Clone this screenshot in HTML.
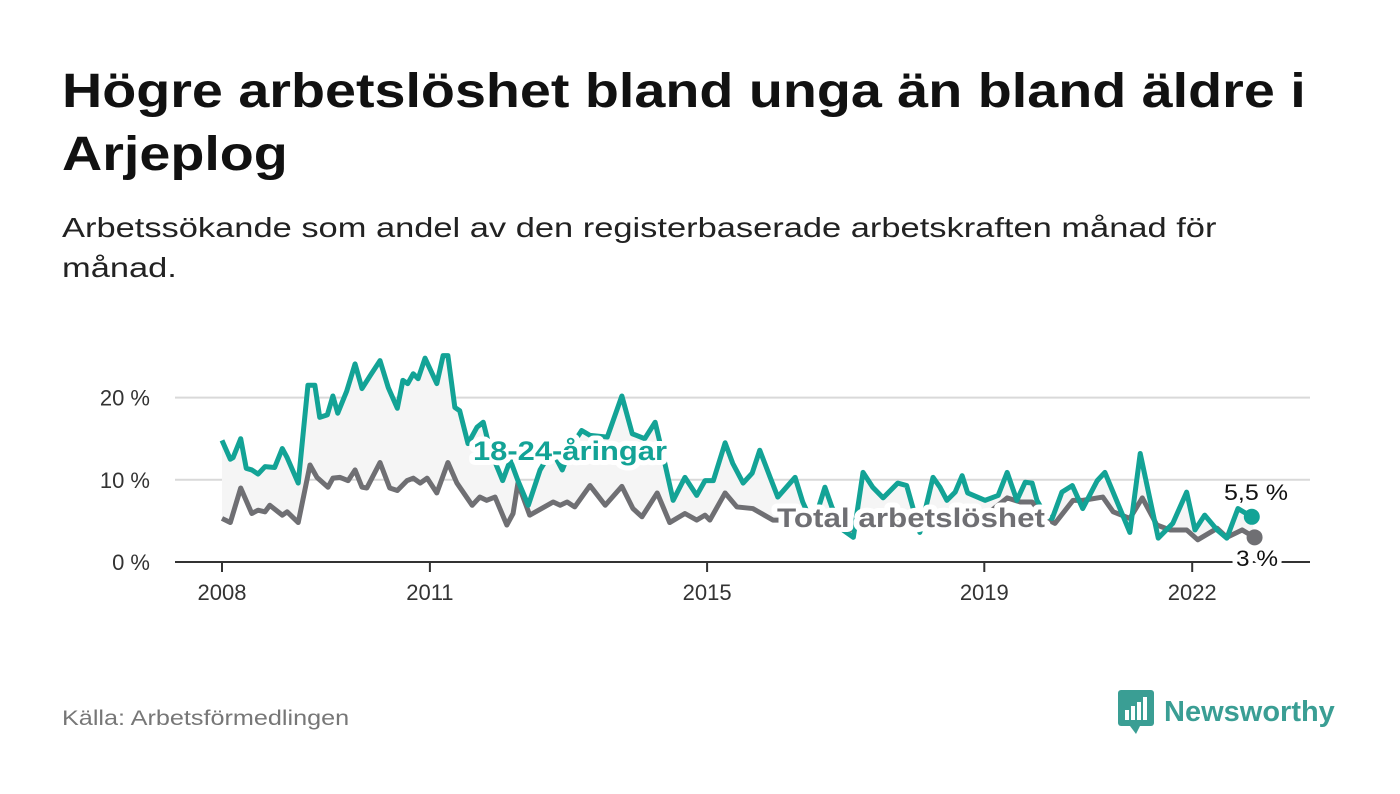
<!DOCTYPE html>
<html><head><meta charset="utf-8">
<style>
body{margin:0;background:#fff;width:1400px;height:794px;overflow:hidden;font-family:"Liberation Sans",sans-serif;position:relative}
#title{position:absolute;left:62px;top:60px;font-size:48px;font-weight:bold;line-height:63px;color:#111;transform:scaleX(1.16);transform-origin:0 0;white-space:nowrap}
#sub{position:absolute;left:62px;top:208px;font-size:28px;line-height:40px;color:#222;transform:scaleX(1.23);transform-origin:0 0;white-space:nowrap}
#src{position:absolute;left:62px;top:707px;font-size:21px;color:#777;transform:scaleX(1.2);transform-origin:0 0;white-space:nowrap}
#logo{position:absolute;left:1118px;top:690px;display:flex;align-items:center;gap:10px}
</style></head><body>
<div id="title">Högre arbetslöshet bland unga än bland äldre i<br>Arjeplog</div>
<div id="sub">Arbetssökande som andel av den registerbaserade arbetskraften månad för<br>månad.</div>
<svg id="chart" width="1400" height="794" style="position:absolute;left:0;top:0"></svg>
<div id="src">Källa: Arbetsförmedlingen</div>
<div id="logo">
<svg width="36" height="44" viewBox="0 0 36 44"><rect x="0" y="0" width="36" height="36" rx="3" fill="#3a9e94"/><path d="M12 36 L18 44 L22 36Z" fill="#3a9e94"/><rect x="7" y="20" width="4" height="10" fill="#fff"/><rect x="13" y="16" width="4" height="14" fill="#fff"/><rect x="19" y="12" width="4" height="18" fill="#fff"/><rect x="25" y="7" width="4" height="23" fill="#fff"/></svg>
<span style="font-size:29px;font-weight:bold;color:#3a9e94">Newsworthy</span></div>
<script>
const youthYears=[0,.12,.16,.27,.35,.43,.52,.62,.76,.87,.94,1.10,1.24,1.34,1.41,1.52,1.60,1.67,1.80,1.92,2.02,2.14,2.28,2.40,2.53,2.61,2.68,2.76,2.83,2.93,3.10,3.19,3.26,3.36,3.43,3.55,3.68,3.77,3.87,4.05,4.16,4.27,4.42,4.59,4.76,4.91,5.05,5.19,5.31,5.56,5.77,5.92,6.10,6.25,6.39,6.51,6.68,6.85,6.97,7.09,7.26,7.37,7.52,7.65,7.76,7.91,8.02,8.27,8.38,8.53,8.70,8.80,8.96,9.11,9.25,9.39,9.54,9.75,9.88,10.07,10.26,10.36,10.46,10.58,10.68,10.76,11.01,11.20,11.33,11.47,11.59,11.69,11.76,11.88,11.98,12.12,12.27,12.42,12.63,12.74,13.10,13.25,13.51,13.72,13.92,14.04,14.18,14.36,14.50,14.66,14.86];
const youthValues=[14.8,12.5,12.7,15.0,11.4,11.2,10.7,11.6,11.5,13.8,12.7,9.6,21.5,21.5,17.6,17.9,20.2,18.1,20.8,24.1,21.1,22.7,24.5,21.2,18.7,22.1,21.7,22.9,22.3,24.8,21.7,25.1,25.1,18.8,18.4,14.4,16.4,17.0,13.6,9.9,12.4,9.9,6.9,11.2,13.6,11.2,14.2,16.0,15.4,15.2,20.2,15.6,15.0,17.0,12.0,7.5,10.3,8.1,9.9,9.9,14.5,12.0,9.6,10.8,13.6,10.3,7.9,10.3,7.3,4.5,9.1,6.7,3.9,3.0,10.9,9.1,7.8,9.6,9.3,3.6,10.3,9.1,7.5,8.5,10.5,8.4,7.5,8.1,10.9,7.5,9.7,9.6,7.5,5.7,5.3,8.5,9.3,6.5,9.9,10.9,3.6,13.2,2.9,4.7,8.5,3.9,5.7,3.9,2.9,6.5,5.5];
const totalYears=[0,.12,.27,.43,.52,.62,.69,.81,.87,.94,1.10,1.27,1.37,1.53,1.60,1.70,1.82,1.92,2.02,2.09,2.28,2.42,2.53,2.67,2.76,2.86,2.96,3.10,3.26,3.39,3.61,3.72,3.82,3.94,4.11,4.20,4.27,4.44,4.78,4.88,4.98,5.09,5.31,5.53,5.77,5.93,6.06,6.28,6.46,6.68,6.85,6.97,7.04,7.26,7.43,7.66,7.95,8.20,8.48,8.77,9.06,9.35,9.78,10.22,10.65,11.08,11.33,11.52,11.69,11.88,12.02,12.28,12.42,12.71,12.86,13.10,13.28,13.49,13.68,13.92,14.08,14.36,14.50,14.72,14.90];
const totalValues=[5.3,4.8,9.0,5.9,6.3,6.1,6.9,6.1,5.7,6.1,4.8,11.8,10.3,9.1,10.2,10.3,9.9,11.2,9.1,9.0,12.1,9.0,8.7,9.9,10.2,9.6,10.2,8.4,12.1,9.6,6.9,7.9,7.5,7.9,4.5,5.9,9.6,5.7,7.3,6.9,7.3,6.7,9.3,6.9,9.2,6.5,5.5,8.4,4.8,5.9,5.1,5.7,5.1,8.4,6.7,6.5,5.1,5.1,4.5,5.1,3.9,5.3,4.8,5.1,5.7,6.1,7.8,7.3,7.3,5.3,4.7,7.5,7.5,7.9,6.1,5.3,7.8,4.5,3.9,3.9,2.7,4.1,3.0,3.9,3.0];
const yTicks=[0,10,20];
const yTickLabels=["0 %","10 %","20 %"];
const xTicks=[0,3,7,11,14];
const xTickLabels=["2008","2011","2015","2019","2022"];
const NS="http://www.w3.org/2000/svg";
const svg=document.getElementById('chart');
const X=t=>222+t*69.3, Y=v=>562-v*8.22;
function mk(tag,attrs,parent){const e=document.createElementNS(NS,tag);for(const k in attrs)e.setAttribute(k,attrs[k]);(parent||svg).appendChild(e);return e;}
yTicks.forEach((v,i)=>{
 if(v>0){const g=mk('line',{x1:175,x2:1310,y1:Y(v),y2:Y(v),stroke:'#d9d9d9','stroke-width':2});
 
 }
 const t=mk('text',{x:150,y:Y(v)+8,'text-anchor':'end','font-size':22,fill:'#333'});t.textContent=yTickLabels[i];
 
 
});
const yp=youthYears.map((t,i)=>X(t)+','+Y(youthValues[i]));
const tp=totalYears.map((t,i)=>X(t)+','+Y(totalValues[i])).reverse();
const area=mk('polygon',{points:yp.concat(tp).join(' '),fill:'#f5f5f5'});


const ax=mk('line',{x1:175,x2:1310,y1:Y(0),y2:Y(0),stroke:'#333','stroke-width':2});


xTicks.forEach((t,i)=>{
 const l=mk('line',{x1:X(t),x2:X(t),y1:Y(0),y2:Y(0)+10,stroke:'#333','stroke-width':2});
 
 
 const tx=mk('text',{x:X(t),y:600,'text-anchor':'middle','font-size':22,fill:'#333'});tx.textContent=xTickLabels[i];
 
 
});
const gl=mk('polyline',{points:totalYears.map((t,i)=>X(t)+','+Y(totalValues[i])).join(' '),fill:'none',stroke:'#6f6f73','stroke-width':5,'stroke-linejoin':'round'});


const tl=mk('polyline',{points:yp.join(' '),fill:'none',stroke:'#13a396','stroke-width':5,'stroke-linejoin':'round'});


const ly=youthYears.length-1, lt=totalYears.length-1;
const d2=mk('circle',{cx:X(totalYears[lt]),cy:Y(totalValues[lt]),r:8,fill:'#6f6f73'});


const d1=mk('circle',{cx:X(youthYears[ly]),cy:Y(youthValues[ly]),r:8,fill:'#13a396'});


function label(txt,x,y,col,size,bold,name,len,halo){
 const a={x:x,y:y,'font-size':size,'font-weight':bold?'bold':'normal',textLength:len,lengthAdjust:'spacingAndGlyphs'};
 const h=mk('text',Object.assign({fill:'#fff',stroke:'#fff','stroke-width':halo,'stroke-linejoin':'round'},a));h.textContent=txt;
 
 
 const t=mk('text',Object.assign({fill:col},a));t.textContent=txt;
 
 
}
label('18-24-åringar',473,460,'#13a396',27,true,'youth-series-label',194,10);
label('Total arbetslöshet',777,527,'#6f6f73',27,true,'total-series-label',268,10);
label('5,5 %',1224,500,'#111',22,false,'youth-end-value',64,6);
label('3 %',1236,566,'#111',22,false,'total-end-value',42,8);
</script>
</body></html>
